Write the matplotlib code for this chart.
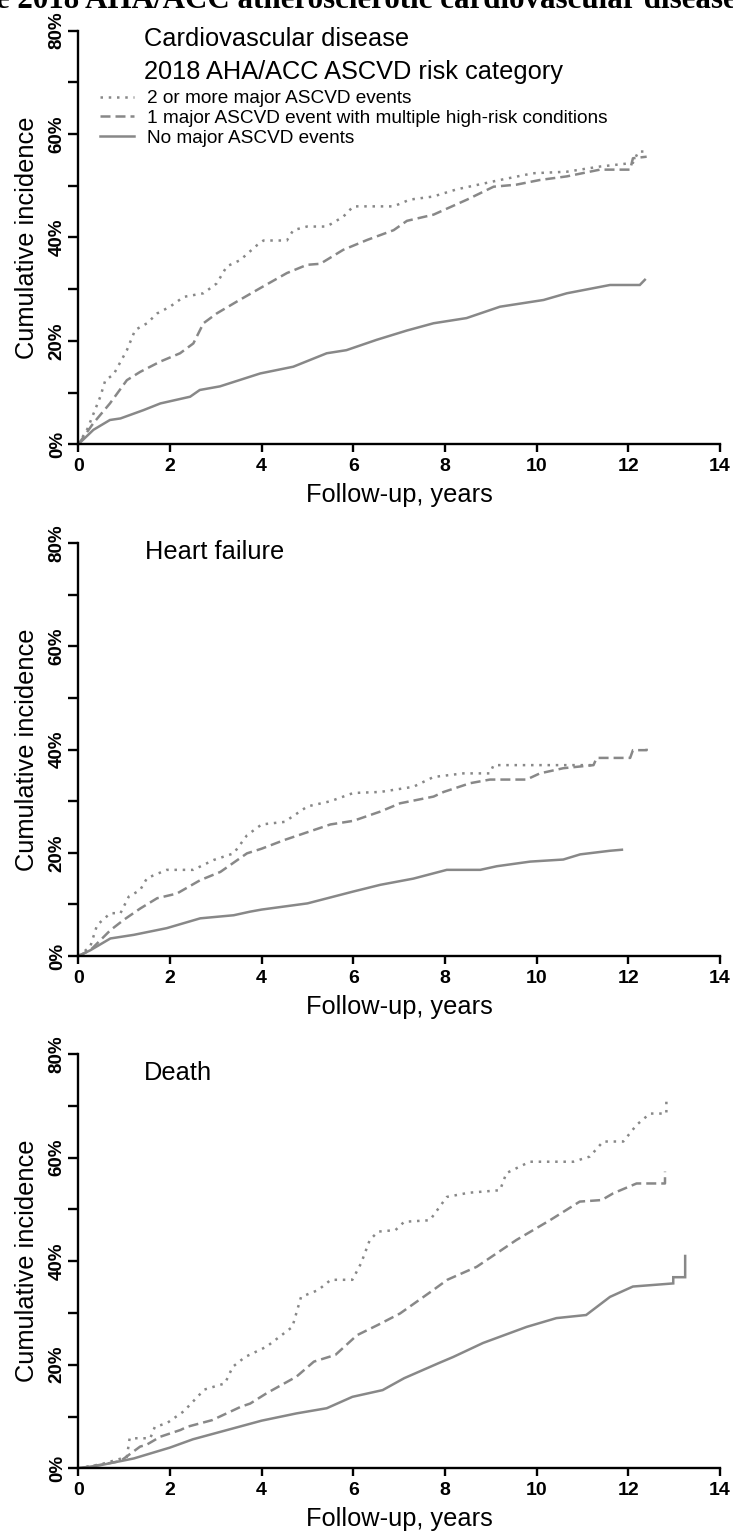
import matplotlib
matplotlib.use("Agg")
import matplotlib.pyplot as plt
from matplotlib.ticker import FixedLocator

plt.rcParams['font.family'] = ['Liberation Sans', 'DejaVu Sans']

# ---------------- data (years, cumulative incidence %) ----------------
series_labels = ["2 or more major ASCVD events",
                 "1 major ASCVD event with multiple high-risk conditions",
                 "No major ASCVD events"]
panel_titles = ["Cardiovascular disease", "Heart failure", "Death"]
x_ticks = [0, 2, 4, 6, 8, 10, 12, 14]
y_major = [0, 20, 40, 60, 80]
y_minor = [10, 30, 50, 70]
y_tick_labels = ["0%", "20%", "40%", "60%", "80%"]

# Cardiovascular disease
cvd_2plus_t = [0, 0.2, 0.48, 0.59, 0.77, 1.06, 1.24, 1.5, 1.72, 2.0, 2.3, 2.73, 3.02, 3.24, 3.53, 3.9,
               4.04, 4.55, 4.69, 4.99, 5.42, 5.78, 6.0, 6.88, 7.23, 7.74, 8.26, 9.2, 9.92, 10.66, 11.38,
               12.1, 12.22, 12.35]
cvd_2plus_v = [0, 3.0, 9.2, 12.4, 13.5, 18.2, 22.1, 23.4, 25.3, 26.6, 28.5, 29.2, 31.1, 34.4, 35.6, 38.5,
               39.4, 39.4, 41.4, 42.1, 42.1, 44.0, 46.0, 46.0, 47.3, 47.9, 49.3, 51.1, 52.4, 52.7, 53.7,
               54.4, 56.6, 56.6]
cvd_1multi_t = [0, 0.33, 0.69, 1.06, 1.35, 1.79, 2.22, 2.51, 2.73, 3.02, 3.46, 3.97, 4.55, 4.99, 5.28,
                5.78, 6.3, 6.88, 7.17, 7.75, 8.48, 9.06, 9.56, 10.07, 10.66, 11.38, 12.04, 12.1, 12.4]
cvd_1multi_v = [0, 4.1, 7.9, 12.4, 14.0, 16.0, 17.6, 19.5, 23.4, 25.3, 27.6, 30.2, 33.1, 34.7, 34.9,
                37.6, 39.5, 41.4, 43.2, 44.4, 47.3, 49.8, 50.2, 51.1, 51.8, 53.1, 53.1, 55.3, 55.6]
cvd_none_t = [0, 0.33, 0.69, 0.92, 1.42, 1.79, 2.44, 2.65, 3.09, 3.97, 4.69, 5.42, 5.85, 6.51, 7.17,
              7.75, 8.47, 9.2, 10.15, 10.66, 11.6, 12.25, 12.36]
cvd_none_v = [0, 2.8, 4.7, 5.0, 6.6, 7.9, 9.2, 10.5, 11.2, 13.7, 15.0, 17.6, 18.2, 20.2, 22.0,
              23.4, 24.4, 26.6, 27.9, 29.2, 30.8, 30.8, 31.8]

# Heart failure
hf_2plus_t = [0, 0.26, 0.41, 0.7, 0.92, 1.1, 1.35, 1.5, 1.93, 2.51, 2.95, 3.39, 3.68, 4.0, 4.5, 5.0,
              5.5, 6.0, 6.59, 7.31, 7.75, 8.4, 8.98, 9.06, 11.24]
hf_2plus_v = [0, 1.8, 6.0, 8.3, 8.3, 11.5, 12.8, 15.1, 16.7, 16.7, 18.6, 19.9, 23.4, 25.5, 26.0, 29.0,
              30.0, 31.6, 31.8, 32.8, 34.7, 35.4, 35.4, 37.0, 37.0]
hf_1multi_t = [0, 0.26, 0.7, 0.99, 1.35, 1.72, 2.15, 2.66, 3.1, 3.68, 4.0, 4.5, 5.0, 5.5, 6.0, 6.59,
               7.02, 7.75, 7.97, 8.55, 8.98, 9.78, 10.07, 10.58, 11.24, 11.31, 12.04, 12.1, 12.4, 12.4]
hf_1multi_v = [0, 1.1, 5.0, 7.0, 9.2, 11.2, 12.1, 14.7, 16.3, 19.9, 20.8, 22.5, 24.0, 25.5, 26.2, 28.0,
               29.6, 30.9, 31.8, 33.5, 34.2, 34.2, 35.4, 36.4, 37.0, 38.4, 38.4, 39.9, 39.9, 40.6]
hf_none_t = [0, 0.26, 0.7, 1.21, 1.93, 2.66, 3.39, 3.75, 4.0, 5.0, 6.0, 6.59, 7.31, 8.04, 8.77, 9.13,
             9.86, 10.58, 10.95, 11.6, 11.86]
hf_none_v = [0, 1.1, 3.4, 4.1, 5.4, 7.3, 7.9, 8.6, 9.0, 10.2, 12.5, 13.8, 15.0, 16.7, 16.7, 17.4,
             18.3, 18.7, 19.7, 20.4, 20.6]

# Death
death_2plus_t = [0, 0.5, 0.9, 1.06, 1.12, 1.57, 1.67, 1.93, 2.3, 2.75, 3.2, 3.37, 3.64, 4.11, 4.67, 4.86,
                 5.23, 5.51, 5.98, 6.17, 6.36, 6.54, 6.92, 7.11, 7.67, 8.04, 8.51, 9.2, 9.34, 9.85, 10.8,
                 11.16, 11.45, 11.89, 12.18, 12.47, 12.73, 12.83, 12.83]
death_2plus_v = [0, 0.8, 1.8, 2.2, 5.8, 5.8, 8.0, 8.7, 11.0, 15.2, 16.4, 19.6, 21.5, 23.5, 27.3, 33.1,
                 34.4, 36.4, 36.4, 39.6, 44.1, 45.7, 46.0, 47.6, 47.9, 52.4, 53.2, 53.7, 57.0, 59.2, 59.2,
                 60.2, 63.1, 63.1, 66.3, 68.5, 68.5, 68.5, 71.1]
death_1multi_t = [0, 0.5, 0.92, 1.35, 1.48, 1.79, 2.23, 2.37, 2.92, 3.55, 3.75, 4.11, 4.76, 5.14, 5.61,
                  6.08, 6.54, 7.02, 7.74, 8.05, 8.69, 9.56, 10.29, 10.94, 11.42, 11.67, 12.18, 12.8, 12.8]
death_1multi_v = [0, 0.7, 1.4, 4.2, 4.5, 6.1, 7.4, 8.0, 9.3, 11.9, 12.5, 14.5, 17.7, 20.6, 21.9,
                  25.7, 27.7, 29.9, 34.4, 36.4, 38.9, 44.1, 47.9, 51.5, 51.8, 53.1, 55.0, 55.0, 57.3]
death_none_t = [0, 0.48, 1.21, 2.0, 2.5, 3.0, 3.5, 4.0, 4.76, 5.42, 5.98, 6.64, 7.11, 7.86, 8.18, 8.83,
                9.78, 10.43, 11.08, 11.6, 12.1, 12.98, 12.98, 13.24, 13.24]
death_none_v = [0, 0.6, 1.9, 4.0, 5.6, 6.8, 8.0, 9.2, 10.6, 11.6, 13.8, 15.1, 17.4, 20.3, 21.5, 24.2,
                27.3, 29.0, 29.6, 33.1, 35.1, 35.7, 36.9, 36.9, 41.0]

panels = [
    [(cvd_2plus_t, cvd_2plus_v), (cvd_1multi_t, cvd_1multi_v), (cvd_none_t, cvd_none_v)],
    [(hf_2plus_t, hf_2plus_v), (hf_1multi_t, hf_1multi_v), (hf_none_t, hf_none_v)],
    [(death_2plus_t, death_2plus_v), (death_1multi_t, death_1multi_v), (death_none_t, death_none_v)],
]

# ---------------- layout ----------------
W, H = 733, 1535
fig = plt.figure(figsize=(W / 100, H / 100), dpi=100)
fig.patch.set_facecolor('white')

def fx(px):
    return px / W

def fy(py):
    return 1 - py / H

ax_left, ax_right = 78.3, 720.0
ax_tops = [30.5, 543.3, 1054.0]
ax_bottoms = [444.3, 956.0, 1468.3]
title_pos = [(143.5, 46.5), (145.0, 559.0), (144.0, 1079.5)]

grey = '#888888'
lw = 1.8
styles = [(0, (1.0, 2.3)), (0, (4.0, 2.0)), '-']

for i, series in enumerate(panels):
    ax = fig.add_axes([fx(ax_left), fy(ax_bottoms[i]),
                       fx(ax_right) - fx(ax_left), fy(ax_tops[i]) - fy(ax_bottoms[i])])
    for (t, v), ls, lab in zip(series, styles, series_labels):
        ax.plot(t, v, color=grey, lw=lw, linestyle=ls, label=lab, solid_joinstyle='miter')
    ax.set_xlim(0, 14)
    ax.set_ylim(0, 80)
    for s in ['top', 'right']:
        ax.spines[s].set_visible(False)
    for s in ['left', 'bottom']:
        ax.spines[s].set_linewidth(1.7)
        ax.spines[s].set_color('black')
    ax.set_xticks(x_ticks)
    ax.set_xticklabels([str(x) for x in x_ticks], fontsize=14, fontweight='bold')
    ax.yaxis.set_major_locator(FixedLocator(y_major))
    ax.yaxis.set_minor_locator(FixedLocator(y_minor))
    ax.set_yticklabels(y_tick_labels, fontsize=13.5, fontweight='bold', rotation=90, va='center')
    ax.tick_params(axis='x', which='major', direction='out', length=6, width=1.7, pad=4)
    ax.tick_params(axis='y', which='both', direction='out', length=7, width=1.7, pad=2)
    ax.patch.set_alpha(0)

    ah = ax_bottoms[i] - ax_tops[i]
    ax.set_ylabel("Cumulative incidence", fontsize=18.3)
    ax.yaxis.set_label_coords((38.6 - ax_left) / (ax_right - ax_left), 0.5)
    ax.set_xlabel("Follow-up, years", fontsize=18.3)
    ax.xaxis.set_label_coords(0.5, -(38.7 / ah))

    tx, ty = title_pos[i]
    fig.text(fx(tx), fy(ty), panel_titles[i], fontsize=18.3, va='baseline', ha='left')

    if i == 0:
        fig.text(fx(143.5), fy(78.5), "2018 AHA/ACC ASCVD risk category", fontsize=18.3,
                 va='baseline', ha='left')
        ax.legend(loc='upper left', bbox_to_anchor=(fx(100), fy(90)), bbox_transform=fig.transFigure,
                  frameon=False, fontsize=13.7, handlelength=1.79, handletextpad=0.68,
                  borderpad=0, borderaxespad=0, labelspacing=0.12)

# cropped figure caption at the very top
cap = fig.text(0.5, fy(8.0), "e 2018 AHA/ACC atherosclerotic cardiovascular disease",
               family=['Liberation Serif', 'DejaVu Serif'], fontweight='bold', fontsize=20,
               ha='center', va='baseline')
fig.canvas.draw()
w = cap.get_window_extent().width
cap.set_fontsize(20 * 742 / w)

fig.savefig("out.png", dpi=100, facecolor='white')
